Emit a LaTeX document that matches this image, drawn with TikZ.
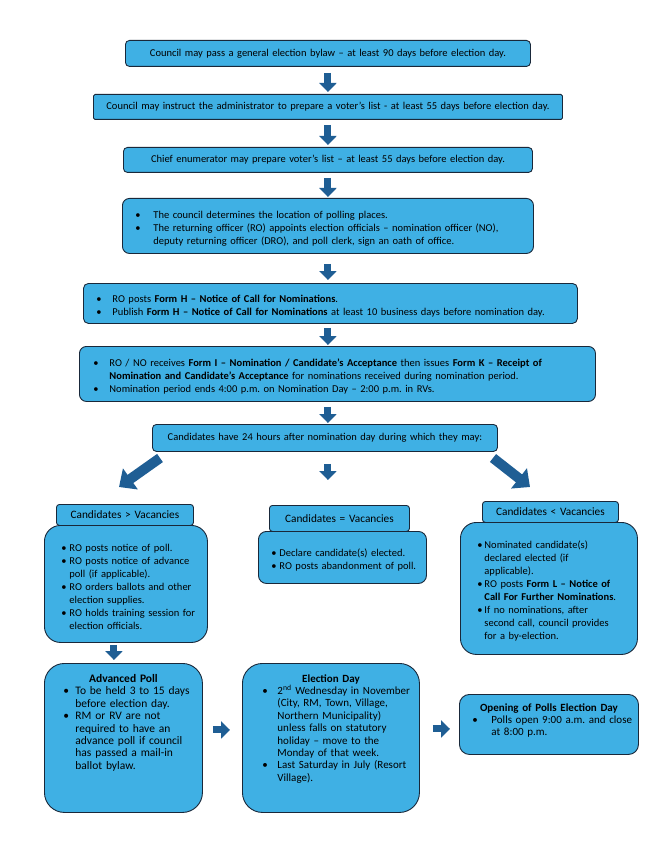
\documentclass[tikz,border=0pt]{standalone}
\usepackage{fontspec}
\setmainfont{Carlito}
\usepackage{enumitem}
\usetikzlibrary{arrows.meta,calc}
%
\definecolor{azul}{RGB}{63,176,228}
\definecolor{borde}{RGB}{25,40,58}
\definecolor{azulosc}{RGB}{31,94,148}
%
\newlist{lista}{itemize}{1}
\setlist[lista]{label=\textbullet, align=left, labelsep=0pt, topsep=0pt, partopsep=0pt, parsep=0pt, itemsep=0pt, rightmargin=0pt}
\newcommand{\bloque}[2]{\begin{minipage}[t][#1][t]{\linewidth}#2\end{minipage}}
\frenchspacing
%
\begin{document}
\begin{tikzpicture}[x=1pt,y=-1pt,
  caja/.style={draw=borde, fill=azul, line width=0.9pt, rounded corners=#1, anchor=north west, inner xsep=0pt, inner ysep=2pt, font=\fontsize{10.5}{13}\selectfont},
  caja/.default=4pt,
  abajo/.style={font=\fontsize{11}{12.4}\selectfont},
  flecha/.style={draw=azulosc, line width=7pt, -{Triangle[width=17pt,length=9pt]}},
  flechag/.style={draw=azulosc, line width=10pt, -{Triangle[width=25pt,length=14pt]}}]
%
\useasboundingbox (0,0) rectangle (657,850);
%
% cajas de arriba
\node[caja, minimum width=405pt, minimum height=26pt, text width=405pt, align=center] (1) at (125,40) {Council may pass a general election bylaw – at least 90 days before election day.};
\node[caja=1.5pt, minimum width=469pt, minimum height=25pt, text width=469pt, align=center] (2) at (93,94) {Council may instruct the administrator to prepare a voter’s list - at least 55 days before election day.};
\node[caja, minimum width=409pt, minimum height=25pt, text width=409pt, align=center] (3) at (123,147) {Chief enumerator may prepare voter’s list – at least 55 days before election day.};
\node[caja=7pt, minimum width=411pt, minimum height=55pt, text width=411pt, align=left] (4) at (122,198) {%
\begin{lista}[leftmargin=31pt,labelwidth=18pt]
\item The council determines the location of polling places.
\item The returning officer (RO) appoints election officials – nomination officer (NO),\\ deputy returning officer (DRO), and poll clerk, sign an oath of office.
\end{lista}};
\node[caja=5pt, minimum width=494pt, minimum height=40pt, text width=494pt, align=left] (5) at (83,283) {%
\begin{lista}[leftmargin=29pt,labelwidth=16pt]
\item RO posts \textbf{Form H – Notice of Call for Nominations}.
\item Publish \textbf{Form H – Notice of Call for Nominations} at least 10 business days before nomination day.
\end{lista}};
\node[caja=7pt, minimum width=516pt, minimum height=55pt, text width=516pt, align=left] (6) at (79,346) {%
\begin{lista}[leftmargin=30pt,labelwidth=16pt]
\item RO / NO receives \textbf{Form I – Nomination / Candidate’s Acceptance} then issues \textbf{Form K – Receipt of}\\ \textbf{Nomination and Candidate’s Acceptance} for nominations received during nomination period.
\item Nomination period ends 4:00 p.m. on Nomination Day – 2:00 p.m. in RVs.
\end{lista}};
\node[caja, minimum width=345pt, minimum height=27pt, text width=345pt, align=center] (7) at (152,424) {Candidates have 24 hours after nomination day during which they may:};
%
% tres casos
\node[caja=3pt, minimum width=137pt, minimum height=21pt, text width=137pt, align=center, font=\fontsize{11.3}{13}\selectfont] (8) at (56,504) {Candidates > Vacancies};
\node[caja=16pt, minimum width=163pt, minimum height=117pt, text width=163pt, align=left] (9) at (44,525) {%
\begin{lista}[leftmargin=25pt,labelwidth=8pt]
\item RO posts notice of poll.
\item RO posts notice of advance\\ poll (if applicable).
\item RO orders ballots and other\\ election supplies.
\item RO holds training session for\\ election officials.
\end{lista}};
\node[caja=3pt, minimum width=140pt, minimum height=26pt, text width=140pt, align=center, font=\fontsize{11.3}{13}\selectfont] (10) at (269,505) {Candidates = Vacancies};
\node[caja=8pt, minimum width=168pt, minimum height=52pt, text width=168pt, align=left] (11) at (258,531) {%
\begin{lista}[leftmargin=21pt,labelwidth=8pt]
\item Declare candidate(s) elected.
\item RO posts abandonment of poll.
\end{lista}};
\node[caja=3pt, minimum width=136pt, minimum height=21pt, text width=136pt, align=center, font=\fontsize{11.3}{13}\selectfont] (12) at (482,501) {Candidates < Vacancies};
\node[caja=16pt, minimum width=177pt, minimum height=132pt, text width=177pt, align=left] (13) at (460,522) {%
\begin{lista}[leftmargin=24pt,labelwidth=7pt]
\item Nominated candidate(s)\\ declared elected (if\\ applicable).
\item RO posts \textbf{Form L – Notice of}\\ \textbf{Call For Further Nominations}.
\item If no nominations, after\\ second call, council provides\\ for a by-election.
\end{lista}};
%
% fila de abajo
\node[caja=20pt, abajo, font=\fontsize{11.5}{12.4}\selectfont, minimum width=158pt, text width=158pt, inner ysep=11pt, align=left] (14) at (44,663) {\bloque{127pt}{%
{\centering\bfseries Advanced Poll\par}
\begin{lista}[leftmargin=31pt,labelwidth=12pt]
\item To be held 3 to 15 days\\ before election day.
\item RM or RV are not\\ required to have an\\ advance poll if council\\ has passed a mail-in\\ ballot bylaw.
\end{lista}}};
\node[caja=20pt, abajo, minimum width=177pt, text width=177pt, inner ysep=11pt, align=left] (15) at (242,663) {\bloque{127pt}{%
{\centering\bfseries Election Day\par}
\begin{lista}[leftmargin=35pt,labelwidth=15pt]
\item 2\textsuperscript{nd} Wednesday in November\\ (City, RM, Town, Village,\\ Northern Municipality)\\ unless falls on statutory\\ holiday – move to the\\ Monday of that week.
\item Last Saturday in July (Resort\\ Village).
\end{lista}}};
\node[caja=10pt, abajo, minimum width=179pt, text width=179pt, inner ysep=9pt, align=left] (16) at (459,694) {\bloque{42pt}{%
{\centering\bfseries Opening of Polls Election Day\par}
\begin{lista}[leftmargin=32pt,labelwidth=19pt]
\item Polls open 9:00 a.m. and close\\ at 8:00 p.m.
\end{lista}}};
%
% flechas
\coordinate (d1) at (160,458);
\coordinate (d2) at (119,487);
\coordinate (d3) at (493,458);
\coordinate (d4) at (530,487);
\coordinate (e1) at ($(9.south)+(-12,0)$);
\coordinate (e2) at ($(14.east)+(0,-8)$);
\coordinate (e3) at ($(15.east)+(0,-9)$);
\draw[flecha, shorten <=6pt, shorten >=2pt] (1.south) -- (1.south |- 2.north);
\draw[flecha, shorten <=5pt, shorten >=2pt] (1.south |- 2.south) -- (1.south |- 3.north);
\draw[flecha, shorten <=5pt, shorten >=1pt] (1.south |- 3.south) -- (1.south |- 4.north);
\draw[flecha, shorten <=10pt, shorten >=3pt] (1.south |- 4.south) -- (1.south |- 5.north);
\draw[flecha, shorten <=4pt, shorten >=1pt] (1.south |- 5.south) -- (1.south |- 6.north);
\draw[flecha, shorten <=5pt, shorten >=1pt] (1.south |- 6.south) -- (1.south |- 7.north);
\draw[flechag] (d1) -- (d2);
\draw[flecha, shorten <=12pt, shorten >=25pt] (1.south |- 7.south) -- (1.south |- 10.north);
\draw[flechag] (d3) -- (d4);
\draw[flecha, shorten <=2pt, shorten >=3pt] (e1) -- (e1 |- 14.north);
\draw[flecha, shorten <=10pt, shorten >=12pt] (e2) -- (e2 -| 15.west);
\draw[flecha, shorten <=13pt, shorten >=9pt] (e3) -- (e3 -| 16.west);
%
\end{tikzpicture}
\end{document}
